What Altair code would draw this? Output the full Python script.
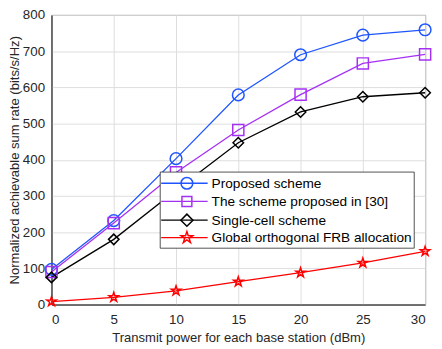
import altair as alt
import pandas as pd

x_vals = [0, 5, 10, 15, 20, 25, 30]
series_names = [
    "Proposed scheme",
    "The scheme proposed in [30]",
    "Single-cell scheme",
    "Global orthogonal FRB allocation",
]
proposed = [97, 232, 403, 579, 690, 744, 759]
scheme30 = [90, 225, 365, 482, 580, 666, 691]
single_cell = [75, 180, 316, 447, 532, 574, 585]
global_frb = [8, 20, 38, 63, 88, 115, 147]
x_ticks = [0, 5, 10, 15, 20, 25, 30]
y_ticks = [0, 100, 200, 300, 400, 500, 600, 700, 800]

colors = ["#1f55ff", "#a530f5", "#000000", "#ff0000"]
star = ("M0,-1L0.223,-0.307L0.951,-0.309L0.361,0.117L0.588,0.809L0,0.38"
        "L-0.588,0.809L-0.361,0.117L-0.951,-0.309L-0.223,-0.307Z")
shapes = ["circle", "square", "diamond", star]
sizes = [140, 100, 150, 150]

rows = []
for name, vals in zip(series_names, [proposed, scheme30, single_cell, global_frb]):
    for xv, yv in zip(x_vals, vals):
        rows.append({"x": xv, "y": yv, "series": name})
df = pd.DataFrame(rows)

W, H = 378, 293
font = "Liberation Sans"

xenc = alt.X("x:Q", scale=alt.Scale(domain=[0, 30], nice=False),
             axis=alt.Axis(values=x_ticks, title="Transmit power for each base station (dBm)",
                           titleY=37, titleBaseline="alphabetic", labelPadding=8))
yenc = alt.Y("y:Q", scale=alt.Scale(domain=[0, 800], nice=False),
             axis=alt.Axis(values=y_ticks, title="Normalized achievable sum rate (bits/s/Hz)",
                           titleX=-33, titleY=H / 2, titleAngle=270, titleBaseline="alphabetic",
                           titleAlign="center", labelPadding=7))
cenc = alt.Color("series:N", scale=alt.Scale(domain=series_names, range=colors), legend=None)
senc = alt.Shape("series:N", scale=alt.Scale(domain=series_names, range=shapes), legend=None)
zenc = alt.Size("series:N", scale=alt.Scale(domain=series_names, range=sizes), legend=None)

lines = alt.Chart(df).mark_line(strokeWidth=1.3).encode(x=xenc, y=yenc, color=cenc, detail="series:N")
points = alt.Chart(df).mark_point(filled=False, strokeWidth=1.5, opacity=1).encode(
    x=xenc, y=yenc, color=cenc, shape=senc, size=zenc)

one = alt.Data(values=[{"a": 1}])
layers = [lines, points]
lx0, lx1, ly0, ly1 = 110, 367, 159, 236
layers.append(alt.Chart(one).mark_rect(fill="white", stroke="#262626", strokeWidth=0.8).encode(
    x=alt.value(lx0), x2=alt.value(lx1), y=alt.value(ly0), y2=alt.value(ly1)))
row_y = [170.3, 188.7, 207.7, 225.3]
for i, name in enumerate(series_names):
    d = alt.Data(values=[{"series": name}])
    layers.append(alt.Chart(d).mark_rule(color=colors[i], strokeWidth=1.3).encode(
        x=alt.value(111), x2=alt.value(158), y=alt.value(row_y[i])))
    layers.append(alt.Chart(d).mark_point(filled=False, strokeWidth=1.5, opacity=1,
                                          color=colors[i], shape=shapes[i], size=sizes[i]).encode(
        x=alt.value(137), y=alt.value(row_y[i])))
    layers.append(alt.Chart(d).mark_text(align="left", baseline="middle", font=font,
                                         fontSize=13.8, color="#000000").encode(
        x=alt.value(162), y=alt.value(row_y[i] + 0.5), text="series:N"))

chart = alt.layer(*layers).properties(
    width=W, height=H,
    padding={"left": 44, "top": 5, "right": 9, "bottom": 45},
    autosize=alt.AutoSizeParams(type="none"),
).configure_view(stroke="#262626", strokeWidth=1).configure_axis(
    labelFont=font, titleFont=font, labelFontSize=13.5, titleFontSize=13.2,
    titleFontWeight="normal", labelColor="#262626", titleColor="#262626",
    gridColor="#dedede", gridWidth=1, domainColor="#262626", ticks=False,
)

chart.save("out.html", embed_options={"renderer": "svg", "actions": False})
